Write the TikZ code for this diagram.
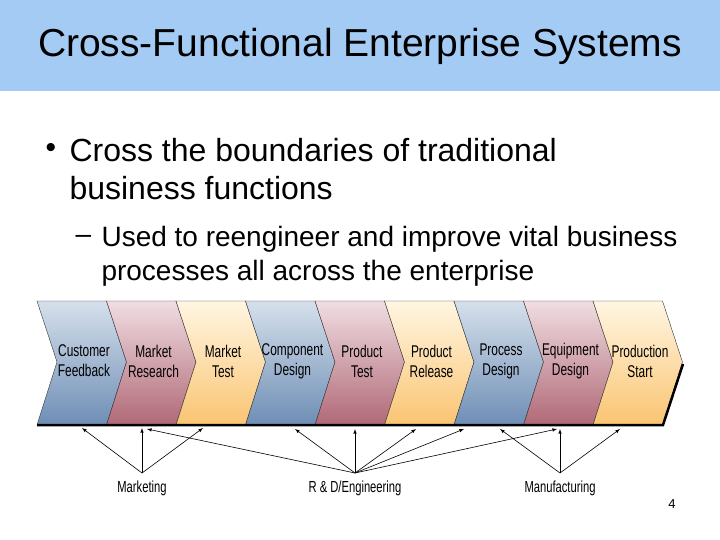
\documentclass[tikz,border=0pt]{standalone}
\usepackage{fontspec}
\setmainfont{Liberation Sans}
\definecolor{hdr}{RGB}{164,203,244}
\definecolor{blt}{RGB}{214,224,236}
\definecolor{blb}{RGB}{110,142,181}
\definecolor{rdt}{RGB}{240,222,226}
\definecolor{rdb}{RGB}{176,104,118}
\definecolor{ylt}{RGB}{255,246,226}
\definecolor{ylb}{RGB}{250,196,114}
\begin{document}
\begin{tikzpicture}[x=1pt,y=-1pt,
  lbl/.style={font=\fontsize{17}{20}\selectfont, align=center, xscale=0.7, transform shape, inner sep=0},
  dept/.style={font=\fontsize{16}{18}\selectfont, xscale=0.7, transform shape, inner sep=0},
  arr/.style={-latex, line width=0.6pt},
  bl/.style={top color=blt, bottom color=blb},
  rd/.style={top color=rdt, bottom color=rdb},
  yl/.style={top color=ylt, bottom color=ylb}]
\useasboundingbox (0,0) rectangle (720,540);
\fill[white] (0,0) rectangle (720,540);
\fill[hdr] (0,0) rectangle (720,91);
\node (title) at (360,46) {\fontsize{39}{44}\selectfont Cross-Functional Enterprise Systems};
\node[anchor=west] (b1) at (42,150) {\fontsize{30}{34}\selectfont •};
\node[anchor=west,align=left,font=\fontsize{32}{38}\selectfont] (t1) at (66,169) {Cross the boundaries of traditional\\business functions};
\node[anchor=west,font=\fontsize{28}{32}\selectfont] (b2) at (72,239) {–};
\node[anchor=west,align=left,font=\fontsize{28}{34}\selectfont] (t2) at (98,256) {Used to reengineer and improve vital business\\processes all across the enterprise};
\def\W{69.5}
\foreach \i/\st/\b [count=\k from 0] in {bl/Customer/Feedback, rd/Market/Research, yl/Market/Test, bl/Component/Design, rd/Product/Test, yl/Product/Release, bl/Process/Design, rd/Equipment/Design, yl/Production/Start}{
  \pgfmathsetmacro\xx{37+\k*\W}
  \shade[\i, draw=black!80, line width=0.4pt] (\xx,301) -- ++(\W,0) -- ++(20,61) -- ++(-20,63) -- ++(-\W,0) -- ++(20,-63) -- cycle;
  \node[lbl] (c\k) at (\xx+47,361) {\st\\\b};
}
\draw[line width=2.5pt] (37,425) coordinate (bl0) -- (663,425) coordinate (br0) -- (683,364);
\node[dept] (mk) at (142,488) {Marketing};
\node[dept] (rdn) at (355,488) {R \& D/Engineering};
\node[dept] (mf) at (560,488) {Manufacturing};
\coordinate (ms) at (142,473);
\coordinate (rs) at (355,473);
\coordinate (fs) at (560,473);
\foreach \x in {82,142,203} \draw[arr] (ms) -- (\x,428);
\foreach \x in {147,295,355,416,464,557} \draw[arr] (rs) -- (\x,429);
\foreach \x in {500,560,620} \draw[arr] (fs) -- (\x,429);
\node (pg) at (672,504) {\fontsize{13}{14}\selectfont 4};
\end{tikzpicture}
\end{document}
